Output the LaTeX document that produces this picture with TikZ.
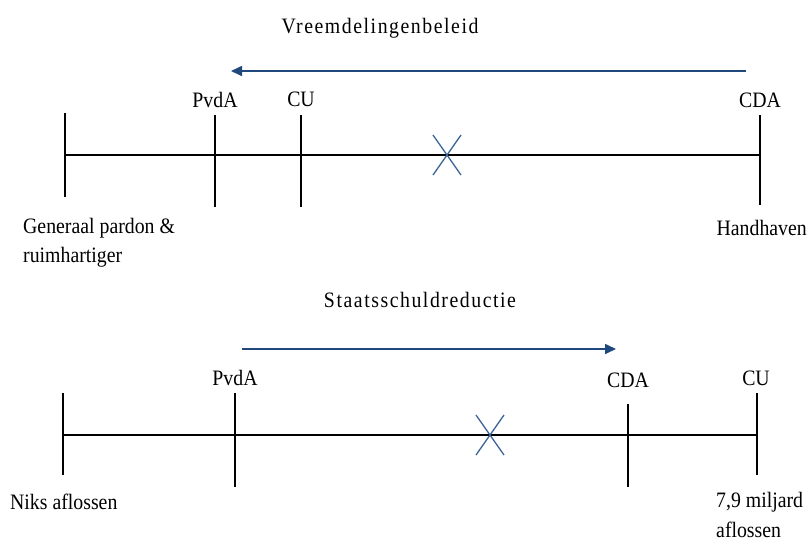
\documentclass[tikz,border=0pt]{standalone}
\usepackage{fontspec}
\setmainfont[FakeStretch=0.9]{Liberation Serif}
\newfontfamily\titlefont[FakeStretch=0.9,LetterSpace=7]{Liberation Serif}
\usetikzlibrary{arrows.meta}
\definecolor{arrowblue}{RGB}{31,73,125}
\definecolor{crossblue}{RGB}{60,100,148}
\tikzset{
  axis/.style={draw,line width=2.2pt},
  tick/.style={draw,line width=1.8pt},
  shiftarrow/.style={draw=arrowblue,line width=1.6pt,-{Triangle[length=11pt,width=10pt]}},
  cross/.style={draw=crossblue,line width=1.3pt},
  heading/.style={font=\titlefont\fontsize{22}{26}\selectfont,inner sep=0pt},
  party/.style={font=\fontsize{22}{26}\selectfont,inner sep=0pt},
  pole/.style={font=\fontsize{22}{29}\selectfont,inner sep=0pt,align=left},
}
\begin{document}
\begin{tikzpicture}[x=1pt,y=-1pt]
\useasboundingbox (0,0) rectangle (808,547);
% Vreemdelingenbeleid
\node[heading] (title1) at (380,28) {Vreemdelingenbeleid};
\coordinate (from1) at (746,71);
\coordinate (to1) at (231,71);
\path[shiftarrow] (from1) -- (to1);
\node[party] (pvda1) at (215,100) {PvdA};
\node[party] (cu1) at (301,99) {CU};
\node[party] (cda1) at (760,100) {CDA};
\coordinate (left1) at (65,155);
\coordinate (right1) at (760,155);
\path[axis] (left1) -- (right1);
\coordinate (lt1) at (65,113); \coordinate (lb1) at (65,197);
\coordinate (pt1) at (215,115); \coordinate (pb1) at (215,207);
\coordinate (ct1) at (301,115); \coordinate (cb1) at (301,207);
\coordinate (dt1) at (760,115); \coordinate (db1) at (760,205);
\path[tick] (lt1) -- (lb1);
\path[tick] (pt1) -- (pb1);
\path[tick] (ct1) -- (cb1);
\path[tick] (dt1) -- (db1);
\coordinate (xa1) at (433,135); \coordinate (xb1) at (461,175);
\coordinate (xc1) at (461,135); \coordinate (xd1) at (433,175);
\path[cross] (xa1) -- (xb1);
\path[cross] (xc1) -- (xd1);
\node[pole,anchor=west] (pardon) at (23,228) {Generaal pardon \&};
\node[pole,anchor=west] (ruim) at (23,257) {ruimhartiger};
\node[pole,anchor=east] (handhaven) at (807,228) {Handhaven};
% Staatsschuldreductie
\node[heading] (title2) at (420,300) {Staatsschuldreductie};
\coordinate (from2) at (242,349);
\coordinate (to2) at (616,349);
\path[shiftarrow] (from2) -- (to2);
\node[party] (pvda2) at (235,378) {PvdA};
\node[party] (cda2) at (628,380) {CDA};
\node[party] (cu2) at (756,378) {CU};
\coordinate (left2) at (63,435);
\coordinate (right2) at (757,435);
\path[axis] (left2) -- (right2);
\coordinate (lt2) at (63,393); \coordinate (lb2) at (63,475);
\coordinate (pt2) at (235,393); \coordinate (pb2) at (235,487);
\coordinate (dt2) at (628,404); \coordinate (db2) at (628,487);
\coordinate (ct2) at (757,393); \coordinate (cb2) at (757,475);
\path[tick] (lt2) -- (lb2);
\path[tick] (pt2) -- (pb2);
\path[tick] (dt2) -- (db2);
\path[tick] (ct2) -- (cb2);
\coordinate (xa2) at (476,415); \coordinate (xb2) at (504,455);
\coordinate (xc2) at (504,415); \coordinate (xd2) at (476,455);
\path[cross] (xa2) -- (xb2);
\path[cross] (xc2) -- (xd2);
\node[pole,anchor=west] (niks) at (10,502) {Niks aflossen};
\node[pole,anchor=west] (miljard) at (716,502) {7,9 miljard};
\node[pole,anchor=west] (afl) at (716,530) {aflossen};
\end{tikzpicture}
\end{document}
